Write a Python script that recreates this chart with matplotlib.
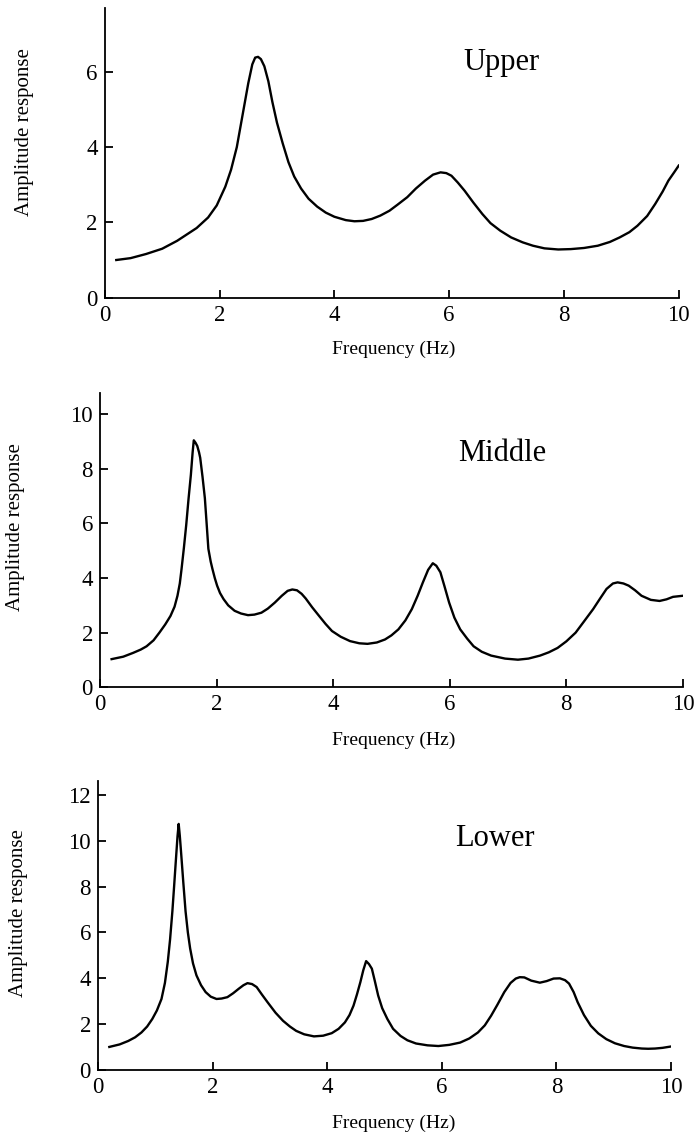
import matplotlib
matplotlib.use('Agg')
import matplotlib.pyplot as plt
import numpy as np

plt.rcParams['font.family'] = ['Liberation Serif', 'DejaVu Serif']

# Upper floor amplitude response
upper_f = [0.2, 0.45, 0.72, 1.0, 1.26, 1.45, 1.6, 1.8, 1.95, 2.1, 2.2, 2.3, 2.4, 2.5,
           2.57, 2.62, 2.67, 2.72, 2.78, 2.85, 2.92, 3.0, 3.1, 3.2, 3.3, 3.42, 3.55,
           3.7, 3.85, 4.0, 4.2, 4.35, 4.5, 4.65, 4.8, 4.96, 5.1, 5.27, 5.42, 5.58,
           5.72, 5.85, 5.95, 6.04, 6.15, 6.27, 6.42, 6.58, 6.72, 6.89, 7.08, 7.28,
           7.46, 7.66, 7.9, 8.12, 8.35, 8.59, 8.8, 8.97, 9.14, 9.28, 9.45, 9.59,
           9.72, 9.82, 9.92, 10.0]
upper_a = [1.0, 1.05, 1.16, 1.3, 1.51, 1.7, 1.85, 2.13, 2.45, 2.95, 3.4, 4.0, 4.85, 5.7,
           6.2, 6.38, 6.4, 6.34, 6.15, 5.75, 5.2, 4.65, 4.1, 3.6, 3.22, 2.9, 2.63,
           2.42, 2.26, 2.15, 2.06, 2.03, 2.04, 2.09, 2.18, 2.31, 2.47, 2.67, 2.9, 3.11,
           3.27, 3.33, 3.31, 3.24, 3.06, 2.84, 2.53, 2.22, 1.98, 1.78, 1.6, 1.47,
           1.38, 1.31, 1.28, 1.29, 1.32, 1.38, 1.48, 1.6, 1.74, 1.91, 2.17, 2.49,
           2.82, 3.11, 3.33, 3.51]

# Middle floor
middle_f = [0.2, 0.4, 0.57, 0.7, 0.8, 0.92, 1.02, 1.12, 1.21, 1.28, 1.33, 1.37, 1.40,
            1.44, 1.48, 1.52, 1.56, 1.59, 1.61, 1.64, 1.67, 1.70, 1.72, 1.76, 1.80,
            1.83, 1.86, 1.90, 1.93, 1.97, 2.01, 2.06, 2.12, 2.2, 2.31, 2.42, 2.54,
            2.65, 2.77, 2.88, 3.0, 3.12, 3.22, 3.3, 3.38, 3.46, 3.53, 3.64, 3.76,
            3.87, 3.98, 4.13, 4.29, 4.45, 4.59, 4.75, 4.89, 5.0, 5.12, 5.24, 5.35,
            5.45, 5.54, 5.63, 5.71, 5.77, 5.84, 5.91, 5.99, 6.08, 6.18, 6.3, 6.41,
            6.55, 6.71, 6.95, 7.17, 7.35, 7.55, 7.7, 7.85, 8.0, 8.16, 8.3, 8.46,
            8.58, 8.69, 8.8, 8.88, 8.98, 9.07, 9.18, 9.29, 9.45, 9.6, 9.72, 9.83, 10.0]
middle_a = [1.03, 1.12, 1.26, 1.38, 1.5, 1.72, 2.0, 2.3, 2.61, 2.95, 3.35, 3.8, 4.33,
            5.1, 5.94, 6.9, 7.78, 8.6, 9.04, 8.95, 8.83, 8.6, 8.4, 7.7, 6.92,
            6.0, 5.07, 4.6, 4.33, 4.0, 3.72, 3.45, 3.23, 3.0, 2.8, 2.7, 2.64,
            2.66, 2.73, 2.88, 3.1, 3.35, 3.53, 3.58, 3.55, 3.42, 3.25, 2.93, 2.61,
            2.32, 2.06, 1.85, 1.69, 1.61, 1.59, 1.64, 1.75, 1.9, 2.12, 2.45, 2.86,
            3.35, 3.84, 4.3, 4.54, 4.45, 4.21, 3.7, 3.1, 2.55, 2.12, 1.78, 1.5,
            1.3, 1.16, 1.05, 1.01, 1.05, 1.16, 1.28, 1.44, 1.68, 2.0, 2.4, 2.86,
            3.25, 3.6, 3.8, 3.84, 3.8, 3.72, 3.55, 3.35, 3.2, 3.16, 3.22, 3.31, 3.35]

# Lower floor
lower_f = [0.2, 0.38, 0.53, 0.65, 0.76, 0.86, 0.95, 1.03, 1.11, 1.17, 1.22, 1.26, 1.30,
           1.33, 1.36, 1.39, 1.41, 1.43, 1.45, 1.49, 1.53, 1.57, 1.61, 1.66, 1.72,
           1.8, 1.88, 1.97, 2.07, 2.16, 2.26, 2.36, 2.46, 2.54, 2.61, 2.69, 2.77,
           2.86, 2.96, 3.1, 3.23, 3.35, 3.46, 3.6, 3.77, 3.93, 4.08, 4.2, 4.31,
           4.39, 4.46, 4.52, 4.58, 4.63, 4.68, 4.73, 4.78, 4.83, 4.89, 4.96, 5.05,
           5.15, 5.28, 5.4, 5.55, 5.75, 5.94, 6.13, 6.32, 6.48, 6.63, 6.75, 6.86,
           6.97, 7.09, 7.2, 7.29, 7.36, 7.44, 7.56, 7.71, 7.83, 7.95, 8.06, 8.15,
           8.22, 8.3, 8.37, 8.48, 8.6, 8.73, 8.87, 9.02, 9.18, 9.33, 9.49, 9.6,
           9.72, 9.85, 10.0]
lower_a = [1.01, 1.12, 1.27, 1.43, 1.64, 1.9, 2.23, 2.6, 3.1, 3.8, 4.72, 5.7, 6.92,
           8.0, 9.11, 10.2, 10.73, 10.2, 9.55, 8.2, 6.92, 6.0, 5.3, 4.65, 4.13,
           3.7, 3.4, 3.2, 3.1, 3.12, 3.18, 3.35, 3.55, 3.7, 3.79, 3.75, 3.62,
           3.3, 2.96, 2.5, 2.15, 1.9, 1.71, 1.56, 1.47, 1.5, 1.61, 1.8, 2.08,
           2.4, 2.81, 3.3, 3.84, 4.35, 4.75, 4.62, 4.42, 3.9, 3.25, 2.7, 2.23,
           1.8, 1.49, 1.3, 1.16, 1.08, 1.05, 1.1, 1.2, 1.38, 1.64, 1.95, 2.37,
           2.85, 3.4, 3.8, 3.99, 4.05, 4.04, 3.9, 3.81, 3.88, 3.99, 4.0, 3.92,
           3.77, 3.4, 2.96, 2.4, 1.93, 1.6, 1.35, 1.17, 1.05, 0.98, 0.94, 0.93,
           0.94, 0.97, 1.03]

panels = [
    dict(f=upper_f, a=upper_a, name='Upper', ymax=7.7, yticks=[0, 2, 4, 6],
         rect=[0.151, 0.738, 0.827, 0.255], name_xy=(6.24, 6.06),
         ylab_xy=(0.035, 1 - 132/1136), xlab_y=1 - 349/1136),
    dict(f=middle_f, a=middle_a, name='Middle', ymax=10.77, yticks=[0, 2, 4, 6, 8, 10],
         rect=[0.144, 0.395, 0.840, 0.259], name_xy=(6.14, 8.3),
         ylab_xy=(0.022, 1 - 527/1136), xlab_y=1 - 740/1136),
    dict(f=lower_f, a=lower_a, name='Lower', ymax=12.6, yticks=[0, 2, 4, 6, 8, 10, 12],
         rect=[0.141, 0.058, 0.826, 0.2545], name_xy=(6.23, 9.78),
         ylab_xy=(0.026, 1 - 913/1136), xlab_y=1 - 1123/1136),
]

fig = plt.figure(figsize=(6.94, 11.36), dpi=100)

for p in panels:
    ax = fig.add_axes(p['rect'])
    ax.plot(p['f'], p['a'], color='black', lw=1.7, solid_joinstyle='round')
    ax.set_xlim(0, 10)
    ax.set_ylim(0, p['ymax'])
    ax.set_xticks([0, 2, 4, 6, 8, 10])
    ax.set_yticks(p['yticks'])
    ax.spines['top'].set_visible(False)
    ax.spines['right'].set_visible(False)
    for s in ['left', 'bottom']:
        ax.spines[s].set_linewidth(1.3)
    ax.tick_params(direction='in', length=6, width=1.3, labelsize=16.5, pad=5)
    ax.text(p['name_xy'][0], p['name_xy'][1], p['name'], fontsize=22,
            ha='left', va='baseline')
    fig.text(p['ylab_xy'][0], p['ylab_xy'][1], 'Amplitude response', rotation=90,
             ha='center', va='center', fontsize=15)
    fig.text(0.567, p['xlab_y'], 'Frequency (Hz)', ha='center', va='center', fontsize=14)

fig.savefig('out.png', dpi=100)
